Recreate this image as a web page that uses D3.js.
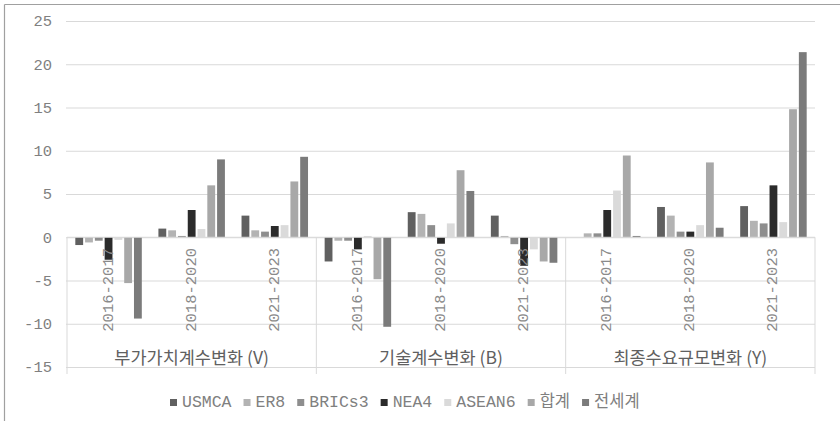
<!DOCTYPE html>
<html><head><meta charset="utf-8">
<script src="https://cdn.jsdelivr.net/npm/d3@7"></script>
<style>body{margin:0;background:#fff}</style>
</head><body><svg id="c" width="840" height="421"></svg>
<script>
const groups = ["부가가치계수변화 (V)", "기술계수변화 (B)", "최종수요규모변화 (Y)"];
const periods = ["2016-2017", "2018-2020", "2021-2023"];
const seriesNames = ["USMCA", "ER8", "BRICs3", "NEA4", "ASEAN6", "합계", "전세계"];
const seriesColors = ["#606060", "#b3b3b3", "#8e8e8e", "#2b2b2b", "#dadada", "#a8a8a8", "#7b7b7b"];
// values per series, 9 categories: V(3 periods), B(3 periods), Y(3 periods)
const USMCA  = [-0.9, 1.0, 2.5, -2.8, 2.9, 2.5, 0.0, 3.5, 3.6];
const ER8    = [-0.6, 0.8, 0.8, -0.4, 2.7, 0.15, 0.45, 2.5, 1.9];
const BRICs3 = [-0.4, 0.15, 0.65, -0.4, 1.4, -0.8, 0.45, 0.65, 1.6];
const NEA4   = [-2.6, 3.15, 1.3, -1.4, -0.75, -3.3, 3.15, 0.65, 6.0];
const ASEAN6 = [-0.3, 0.95, 1.4, 0.15, 1.6, -1.4, 5.4, 1.4, 1.75];
const total  = [-5.3, 6.0, 6.45, -4.85, 7.75, -2.8, 9.45, 8.65, 14.8];
const world  = [-9.4, 9.0, 9.3, -10.35, 5.35, -2.95, 0.15, 1.1, 21.4];
const yTicks = [-15, -10, -5, 0, 5, 10, 15, 20, 25];

const seriesValues = [USMCA, ER8, BRICs3, NEA4, ASEAN6, total, world];
const cats = [];
groups.forEach((g, gi) => periods.forEach((p, pi) => cats.push({id: gi + "|" + p, g: gi, p})));

const svg = d3.select("#c");
const monoFont = "'Liberation Mono', 'Noto Sans CJK KR', monospace";
const krFont = "'Noto Sans CJK KR', sans-serif";
const textCol = "#808080";

// outer frame (top + left)
svg.append("line").attr("x1", 4.5).attr("x2", 840).attr("y1", 4.5).attr("y2", 4.5).attr("stroke", "#a0a0a0").attr("stroke-width", 1.2);
svg.append("line").attr("x1", 4.5).attr("x2", 4.5).attr("y1", 4.5).attr("y2", 421).attr("stroke", "#a0a0a0").attr("stroke-width", 1.2);

const left = 67, right = 815;
const y = d3.scaleLinear().domain([-15, 25]).range([367, 21]);
const x0 = d3.scaleBand().domain(cats.map(c => c.id)).range([left, right]).paddingInner(0).paddingOuter(0);
const x1 = d3.scaleBand().domain(seriesNames).range([0, x0.bandwidth()]).paddingInner(0.2).paddingOuter(0.85);

// grid lines
const yAxis = d3.axisLeft(y).tickValues(yTicks).tickSize(0).tickFormat(d3.format("d"));
const gy = svg.append("g").attr("transform", `translate(${left},0)`).call(yAxis);
gy.select(".domain").remove();
gy.selectAll(".tick line").attr("x1", -1).attr("x2", right - left).attr("stroke", "#d9d9d9").attr("stroke-width", 1);
gy.selectAll(".tick text").attr("x", -15).attr("font-family", monoFont).attr("font-size", 15.5).attr("fill", textCol).text(d => d < 0 ? "-" + Math.abs(d) : d);

// category group dividers
const gx = d3.scaleBand().domain(groups).range([left, right]);
const dividers = [left, ...groups.map(g => gx(g) + gx.bandwidth())];
svg.selectAll(".div").data(dividers).join("line")
  .attr("x1", d => d).attr("x2", d => d).attr("y1", y(0)).attr("y2", 374)
  .attr("stroke", "#d9d9d9").attr("stroke-width", 1);

// bars
const data = [];
cats.forEach((c, ci) => seriesNames.forEach((s, si) => data.push({c: c.id, s, si, v: seriesValues[si][ci]})));
svg.append("g").selectAll("rect").data(data).join("rect")
  .attr("x", d => x0(d.c) + x1(d.s))
  .attr("width", x1.bandwidth())
  .attr("y", d => y(Math.max(0, d.v)))
  .attr("height", d => Math.abs(y(d.v) - y(0)))
  .attr("fill", d => seriesColors[d.si]);

// zero axis line
svg.append("line").attr("x1", left).attr("x2", right).attr("y1", y(0)).attr("y2", y(0)).attr("stroke", "#d9d9d9").attr("stroke-width", 1);

// period labels (rotated)
svg.selectAll(".plab").data(cats).join("text")
  .attr("transform", d => `translate(${x0(d.id) + x0.bandwidth() / 2},248) rotate(-90)`)
  .attr("text-anchor", "end").attr("dominant-baseline", "central")
  .attr("font-family", monoFont).attr("font-size", 15.5).attr("fill", "#8a8a8a")
  .text(d => d.p);

// group labels
svg.selectAll(".glab").data(groups).join("text")
  .attr("x", d => gx(d) + gx.bandwidth() / 2).attr("y", 364)
  .attr("text-anchor", "middle")
  .attr("font-family", krFont).attr("font-size", 17.5).attr("fill", "#606060")
  .text(d => d);

// legend
const lg = svg.append("g").attr("transform", "translate(170,402)");
let lx = 0;
seriesNames.forEach((s, i) => {
  lg.append("rect").attr("x", lx).attr("y", -3).attr("width", 7).attr("height", 7).attr("fill", seriesColors[i]);
  const t = lg.append("text").attr("x", lx + 12).attr("y", 0).attr("dominant-baseline", "central")
    .attr("font-family", monoFont).attr("font-size", 16.5).attr("fill", textCol).text(s);
  lx += 12 + t.node().getComputedTextLength() + 12;
});
</script></body></html>
